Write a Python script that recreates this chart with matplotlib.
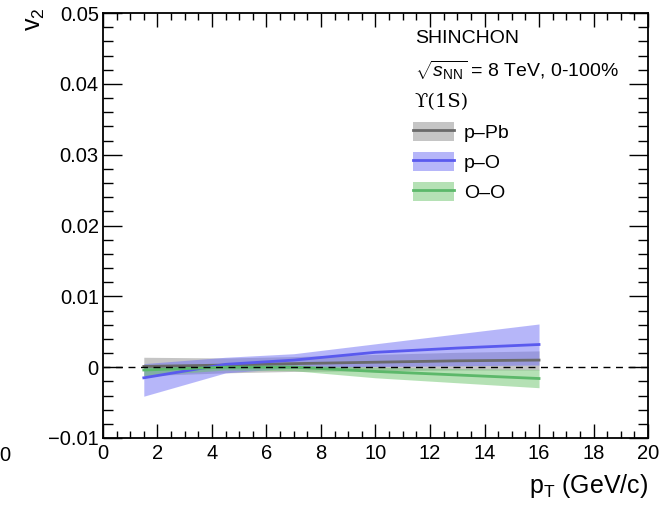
import numpy as np
import matplotlib.pyplot as plt
from matplotlib.patches import Patch
from matplotlib.lines import Line2D
from matplotlib.ticker import MultipleLocator

plt.rcParams['font.family'] = ['Liberation Sans', 'DejaVu Sans']
plt.rcParams['mathtext.fontset'] = 'custom'
plt.rcParams['mathtext.rm'] = 'Liberation Sans'
plt.rcParams['mathtext.it'] = 'Liberation Sans:italic'

# pT points of the bands
pt = [1.5, 4.5, 7.0, 10.0, 13.0, 16.0]

# p-Pb
ppb_mid = [0.0001, 0.0003, 0.0005, 0.0007, 0.0009, 0.0010]
ppb_lo = [-0.0012, -0.0008, -0.0006, -0.0005, -0.0004, -0.0004]
ppb_hi = [0.0014, 0.0013, 0.0015, 0.0018, 0.0021, 0.0023]

# p-O
po_mid = [-0.0015, 0.0004, 0.0010, 0.0021, 0.0027, 0.0032]
po_lo = [-0.0041, -0.0008, -0.0001, 0.0001, 0.0002, 0.0003]
po_hi = [0.0005, 0.0014, 0.0019, 0.0033, 0.0047, 0.0061]

# O-O
oo_mid = [-0.0004, 0.0000, 0.0000, -0.0006, -0.0011, -0.0016]
oo_lo = [-0.0012, -0.0004, -0.0005, -0.0015, -0.0022, -0.0029]
oo_hi = [0.0004, 0.0004, 0.0003, 0.0000, -0.0002, -0.0003]

labels = ['p\u2013Pb', 'p\u2013O', 'O\u2013O']
band_cols = ['#8c8c8c', '#6f6ff5', '#6cc56c']
line_cols = ['#6a6a6a', '#5a5aee', '#5cb86a']

xticks = [0, 2, 4, 6, 8, 10, 12, 14, 16, 18, 20]
yticks = [-0.01, 0, 0.01, 0.02, 0.03, 0.04, 0.05]
ytick_labels = ['\u22120.01', '0', '0.01', '0.02', '0.03', '0.04', '0.05']

fig = plt.figure(figsize=(6.64, 5.05), dpi=100)
ax = fig.add_axes([0.155, 0.1327, 0.821, 0.8413])

series = [(ppb_lo, ppb_hi, ppb_mid), (po_lo, po_hi, po_mid), (oo_lo, oo_hi, oo_mid)]
handles = []
for (lo, hi, mid), bc, lc, lab in zip(series, band_cols, line_cols, labels):
    ax.fill_between(pt, lo, hi, color=bc, alpha=0.5, lw=0)
    ax.plot(pt, mid, color=lc, lw=2)
    handles.append((Patch(facecolor=bc, alpha=0.5, lw=0), Line2D([], [], color=lc, lw=2)))

ax.axhline(0, color='black', lw=1, ls=(0, (5, 4)))

ax.set_xlim(0, 20)
ax.set_ylim(-0.01, 0.05)
ax.set_xticks(xticks)
ax.set_xticklabels([str(t) for t in xticks])
ax.set_yticks(yticks)
ax.set_yticklabels(ytick_labels)
ax.xaxis.set_minor_locator(MultipleLocator(0.5))
ax.yaxis.set_minor_locator(MultipleLocator(0.002))
ax.tick_params(which='both', direction='in', top=True, right=True, labelsize=14.5, width=1)
ax.tick_params(axis='x', which='major', length=10, pad=4)
ax.tick_params(axis='x', which='minor', length=5)
ax.tick_params(axis='y', which='major', length=14, pad=3)
ax.tick_params(axis='y', which='minor', length=7)
for s in ax.spines.values():
    s.set_linewidth(1.3)

fig.text(0.976, 0.038, r'p$_{\mathrm{T}}$ (GeV/c)', ha='right', va='center', fontsize=18)
fig.text(0.052, 0.985, r'v$_{2}$', rotation=90, ha='center', va='top', fontsize=18)
fig.text(0.016, 0.099, '0', ha='right', va='center', fontsize=14.5)

ax.text(0.572, 0.94, 'SHINCHON', transform=ax.transAxes, fontsize=14, va='center')
ax.text(0.572, 0.865, r'$\sqrt{s_{\mathrm{NN}}}$ = 8 TeV, 0-100%', transform=ax.transAxes,
        fontsize=14, va='center')
ax.text(0.572, 0.79, '\u03d2(1S)', transform=ax.transAxes, fontsize=14, va='center',
        family=['DejaVu Serif'])

ax.legend(handles, labels, loc='upper left', bbox_to_anchor=(0.555, 0.762), frameon=False,
          fontsize=14, handlelength=2.1, handleheight=1.15, labelspacing=0.5,
          handletextpad=0.5, borderaxespad=0)

fig.savefig('out.png', dpi=100)
